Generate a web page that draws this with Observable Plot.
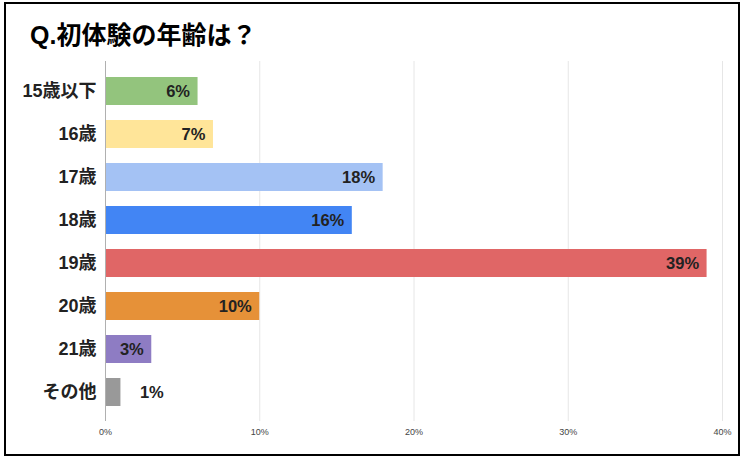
<!DOCTYPE html>
<html>
<head>
<meta charset="utf-8">
<script src="https://cdn.jsdelivr.net/npm/d3@7"></script>
<script src="https://cdn.jsdelivr.net/npm/@observablehq/plot@0.6"></script>
<style>
  html, body { margin: 0; padding: 0; background: #fff; }
  #wrap { position: relative; width: 743px; height: 459px; overflow: hidden; }
  #frame { position: absolute; left: 4px; top: 2px; width: 732px; height: 450px; border: 2px solid #000; box-sizing: content-box; pointer-events: none; }
  #title { position: absolute; left: 30px; top: 15px; font: bold 25px "Liberation Sans", Arial, "Noto Sans CJK JP", sans-serif; color: #000; white-space: nowrap; }
  #chart { position: absolute; left: 0; top: 0; }
</style>
</head>
<body>
<div id="wrap">
  <div id="chart"></div>
  <div id="title">Q.初体験の年齢は？</div>
  <div id="frame"></div>
</div>
<script>
const categories = ["15歳以下", "16歳", "17歳", "18歳", "19歳", "20歳", "21歳", "その他"];
const values = [6, 7, 18, 16, 39, 10, 3, 1];
const colors = ["#93c47d", "#ffe599", "#a4c2f4", "#4285f4", "#e06666", "#e69138", "#8e7cc3", "#999999"];
const xTicks = [0, 10, 20, 30, 40];
const xTickLabels = ["0%", "10%", "20%", "30%", "40%"];

const data = categories.map((c, i) => ({ cat: c, v: values[i], color: colors[i] }));
const font = '"Liberation Sans", Arial, "Noto Sans CJK JP", sans-serif';

const chart = Plot.plot({
  width: 743,
  height: 459,
  marginLeft: 105,
  marginRight: 21,
  marginTop: 61,
  marginBottom: 38,
  style: { fontFamily: font, background: "transparent", overflow: "visible" },
  x: { domain: [0, 40], ticks: xTicks, label: null },
  y: { domain: categories, padding: 0.35, label: null },
  color: { domain: categories, range: colors },
  marks: [
    Plot.gridX(xTicks.filter(d => d > 0), { stroke: "#e6e6e6", strokeOpacity: 1, strokeWidth: 1 }),
    Plot.axisX({ ticks: xTicks, tickSize: 0, tickPadding: 7, fontSize: 9, fill: "#444", label: null, tickFormat: (d) => xTickLabels[xTicks.indexOf(d)] }),
    Plot.axisY({ tickSize: 0, tickPadding: 9, fontSize: 18, fontWeight: "bold", fill: "#222", label: null }),
    Plot.barX(data, { y: "cat", x: "v", fill: "cat" }),
    Plot.ruleX([0], { stroke: "#b0b0b0", strokeWidth: 1 }),
    Plot.text(data.filter(d => d.v >= 3), { y: "cat", x: "v", text: d => d.v + "%", textAnchor: "end", dx: -8, fontSize: 16.5, fontWeight: "bold", fill: "#222" }),
    Plot.text(data.filter(d => d.v < 3), { y: "cat", x: "v", text: d => d.v + "%", textAnchor: "start", dx: 19, fontSize: 16.5, fontWeight: "bold", fill: "#222" })
  ]
});
document.getElementById("chart").appendChild(chart);
</script>
</body>
</html>
